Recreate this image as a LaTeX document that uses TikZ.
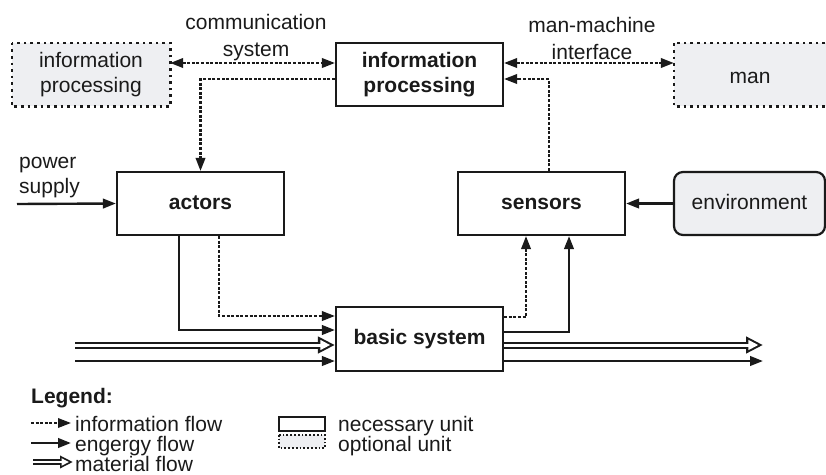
\documentclass[tikz,border=0pt]{standalone}
\usepackage{fontspec}
\setmainfont{Liberation Sans}
\usetikzlibrary{arrows.meta}
\definecolor{optgray}{HTML}{EEEFF2}
\definecolor{ink}{HTML}{1A1A1A}
\begin{document}
\begin{tikzpicture}[x=1pt,y=-1pt,
  every node/.style={text=ink},
  font=\fontsize{21}{25}\selectfont,
  unit/.style={draw=ink, line width=2.2pt, minimum width=167pt, minimum height=63pt, inner sep=0pt, align=center, font=\fontsize{21}{25}\selectfont\bfseries},
  oneline/.style={text height=15pt, text depth=2.5pt},
  optunit/.style={fill=optgray, minimum width=158pt, minimum height=63pt, inner sep=0pt, align=center},
  optborder/.style={draw=ink, line width=2.6pt, dash pattern=on 2.6pt off 4pt},
  lbl/.style={align=center, inner sep=0pt},
  energy/.style={draw=ink, line width=2.4pt, -{Triangle[length=13pt,width=9.5pt]}},
  info/.style={draw=ink, line width=2.2pt, dash pattern=on 3pt off 1.6pt, -{Triangle[length=13pt,width=9.5pt]}},
  infob/.style={draw=ink, line width=2.2pt, dash pattern=on 3pt off 1.6pt, {Triangle[length=13pt,width=9.5pt]}-{Triangle[length=13pt,width=9.5pt]}},
  material/.style={draw=ink, line width=7pt, -{Triangle[length=17pt,width=16pt]},
    postaction={draw=white, line width=3pt, shorten >=4.6pt, -{Triangle[length=10pt,width=9.5pt]}}},
  lmaterial/.style={draw=ink, line width=6pt, -{Triangle[length=13pt,width=12pt]},
    postaction={draw=white, line width=2.4pt, shorten >=4pt, -{Triangle[length=7.5pt,width=7pt]}}},
]
\useasboundingbox (0,0) rectangle (826,474);

% units
\node[optunit] (lip) at (91,74.5) {information\\processing};
\draw[optborder] (lip.north west) rectangle (lip.south east);
\node[unit] (ip) at (419.5,74.5) {information\\processing};
\node[optunit, minimum width=152pt, text height=17pt, text depth=0pt] (man) at (750,74.5) {man};
\draw[optborder] ([xshift=12pt]man.north east) -- (man.north west) -- (man.south west) -- ([xshift=12pt]man.south east);
\node[unit, oneline] (actors) at (200.5,203.5) {actors};
\node[unit, oneline] (sensors) at (541.5,203.5) {sensors};
\node[draw=ink, line width=2.2pt, fill=optgray, rounded corners=9pt, minimum width=151pt, minimum height=63pt, inner sep=0pt, text height=15pt, text depth=4pt] (env) at (749.5,203.5) {environment};
\node[unit, minimum height=64pt, text height=15pt, text depth=5pt] (basic) at (419.5,339) {basic system};

% labels
\node[lbl] (comm) at (256,38) {communication\\[2pt]system};
\node[lbl] (mmi) at (592,38) {man-machine\\[2pt]interface};
\node[lbl, align=left, anchor=west] (power) at (19,178) {power\\supply};

% information links
\draw[infob] ([yshift=11.5pt]lip.east) -- ([yshift=11.5pt]ip.west);
\draw[infob] ([yshift=11.5pt]ip.east) -- ([yshift=11.5pt]man.west);
\draw[info] ([yshift=-4.5pt]ip.west) -| (actors.north);
\draw[info] ([xshift=7.5pt]sensors.north) |- ([yshift=-4.5pt]ip.east);

% energy
\coordinate (psin) at (17,204);
\draw[energy] (psin) -- (actors.west);
\draw[energy] (env.west) -- (sensors.east);
\draw[energy] ([xshift=-21.5pt]actors.south) |- ([yshift=9pt]basic.west);
\draw[info] ([xshift=18.5pt]actors.south) |- ([yshift=23pt]basic.west);
\draw[info] ([yshift=22pt]basic.east) -| ([xshift=-15.5pt]sensors.south);
\draw[energy] ([yshift=7pt]basic.east) -| ([xshift=27.5pt]sensors.south);

% inputs / outputs of basic system
\coordinate (matin) at (75,345);
\coordinate (enin) at (75,361);
\coordinate (matout) at (763,345);
\coordinate (enout) at (763,361);
\draw[material] (matin) -- ([yshift=-6pt]basic.west);
\draw[energy] (enin) -- ([yshift=-22pt]basic.west);
\draw[material] ([yshift=-6pt]basic.east) -- (matout);
\draw[energy] ([yshift=-22pt]basic.east) -- (enout);

% legend
\node[anchor=base west, inner sep=0pt, font=\fontsize{21}{25}\selectfont\bfseries] (legend) at (31,403) {Legend:};
\coordinate (lia) at (31,423);
\coordinate (lib) at (71,423);
\coordinate (lea) at (31,443);
\coordinate (leb) at (71,443);
\coordinate (lma) at (33,462);
\coordinate (lmb) at (73,462);
\draw[info, line width=1.8pt] (lia) -- (lib);
\draw[energy] (lea) -- (leb);
\draw[lmaterial] (lma) -- (lmb);
\node[anchor=base west, inner sep=0pt] (tinfo) at (75,431) {information flow};
\node[anchor=base west, inner sep=0pt] (tener) at (75,451) {engergy flow};
\node[anchor=base west, inner sep=0pt] (tmat) at (75,471) {material flow};
\node[draw=ink, line width=1.8pt, minimum width=46pt, minimum height=14pt, inner sep=0pt] (lnec) at (302,424) {};
\node[fill=optgray, minimum width=46pt, minimum height=13pt, inner sep=0pt] (lopt) at (302,441.5) {};
\draw[draw=ink, line width=1.8pt, dash pattern=on 1.8pt off 2pt] (lopt.north west) rectangle (lopt.south east);
\node[anchor=base west, inner sep=0pt] (tnec) at (338,431) {necessary unit};
\node[anchor=base west, inner sep=0pt] (topt) at (338,451) {optional unit};
\end{tikzpicture}
\end{document}
